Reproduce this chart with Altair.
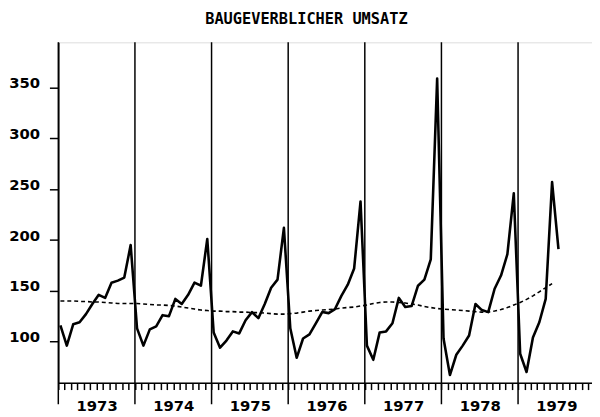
import altair as alt
import pandas as pd

years = [1973, 1974, 1975, 1976, 1977, 1978, 1979]

umsatz_1973 = [116, 96, 117, 119, 127, 137, 146, 143, 158, 160, 163, 195]
umsatz_1974 = [113, 96, 112, 115, 126, 125, 142, 137, 146, 158, 155, 201]
umsatz_1975 = [109, 94, 101, 110, 108, 121, 129, 123, 137, 153, 161, 212]
umsatz_1976 = [113, 84, 103, 107, 118, 129, 128, 132, 145, 156, 172, 238]
umsatz_1977 = [96, 82, 109, 110, 118, 143, 134, 135, 155, 161, 181, 359]
umsatz_1978 = [103, 67, 87, 96, 106, 137, 131, 129, 152, 165, 186, 246]
umsatz_1979 = [88, 70, 104, 119, 142, 257, 191]

trend_1973 = [140, 140, 140, 139.5, 139.5, 139, 139, 138.5, 138, 137.5, 137.5, 137.5]
trend_1974 = [137.5, 137, 136.5, 136, 136, 135.5, 135, 134, 133, 132, 131, 130.5]
trend_1975 = [130, 130, 129.5, 129.5, 129, 129, 128.5, 128.5, 128, 127.5, 127, 127]
trend_1976 = [127.5, 128, 129, 130, 130.5, 131, 131.5, 132, 133, 133.5, 134, 135]
trend_1977 = [136, 137.5, 138.5, 139, 139, 138.5, 138, 137, 136, 134.5, 133.5, 132.5]
trend_1978 = [132, 131.5, 131, 130.5, 130, 129.5, 129, 129, 130, 131.5, 133.5, 136]
trend_1979 = [138.5, 141.5, 145, 149, 153, 157]

y_ticks = [100, 150, 200, 250, 300, 350]

umsatz = [umsatz_1973, umsatz_1974, umsatz_1975, umsatz_1976,
          umsatz_1977, umsatz_1978, umsatz_1979]
trend = [trend_1973, trend_1974, trend_1975, trend_1976,
         trend_1977, trend_1978, trend_1979]

rows = []
for yr, vals in zip(years, umsatz):
    for m, v in enumerate(vals):
        rows.append({"t": yr + (m + 0.33) / 12, "v": v, "s": "umsatz"})
for yr, vals in zip(years, trend):
    for m, v in enumerate(vals):
        rows.append({"t": yr + (m + 0.33) / 12, "v": v, "s": "trend"})
df = pd.DataFrame(rows)

df_years = pd.DataFrame({"t": years})

month_ticks = [yr + k / 12 for yr in years for k in range(12)]

xscale = alt.Scale(domain=[1973, 1979.965], nice=False, zero=False)
yscale = alt.Scale(domain=[59.5, 394.7], nice=False, zero=False)

FONT = "DejaVu Sans"

xaxis = alt.Axis(
    values=month_ticks,
    tickSize=7, tickWidth=1.5, tickColor="black",
    domainColor="black", domainWidth=1.5,
    labelExpr="abs(datum.value - floor(datum.value) - 0.5) < 0.001 ? '' + floor(datum.value) : ''",
    labelOverlap=False, labelFlush=False, labelBound=False,
    labelPadding=9, labelFont=FONT, labelFontSize=15, labelFontWeight="bold",
    labelColor="black", grid=False, title=None,
)
yaxis = alt.Axis(
    values=y_ticks,
    tickSize=9, tickWidth=1.5, tickColor="black",
    domainColor="black", domainWidth=1.5,
    labelPadding=10, labelFont=FONT, labelFontSize=15, labelFontWeight="bold",
    labelColor="black", labelOffset=-5, grid=False, title=None,
)

X = alt.X("t:Q", scale=xscale, axis=xaxis)
Y = alt.Y("v:Q", scale=yscale, axis=yaxis)

base = alt.Chart(df)

line = base.transform_filter(alt.datum.s == "umsatz").mark_line(
    color="black", strokeWidth=2.6, strokeJoin="round"
).encode(x=X, y=Y)

trend_line = base.transform_filter(alt.datum.s == "trend").mark_line(
    color="black", strokeWidth=1.6, strokeDash=[4, 3]
).encode(x=X, y=Y)

year_rules = alt.Chart(df_years).mark_rule(color="black", strokeWidth=1.5).encode(
    x=X,
    y=alt.value(0),
    y2=alt.value(367),
)

chart = alt.layer(line, trend_line, year_rules).properties(
    width=541,
    height=345,
    autosize=alt.AutoSizeParams(type="none"),
    padding={"left": 51, "top": 32, "right": 0, "bottom": 32},
    title=alt.Title(
        "BAUGEVERBLICHER UMSATZ",
        font="DejaVu Sans Mono", fontSize=15.5, fontWeight="bold",
        color="black", anchor="middle", frame="group", dx=-19, offset=14,
    ),
).configure_view(stroke="black", strokeWidth=1.5).configure(background="white")

chart.save("out.html", embed_options={"renderer": "svg", "actions": False})
